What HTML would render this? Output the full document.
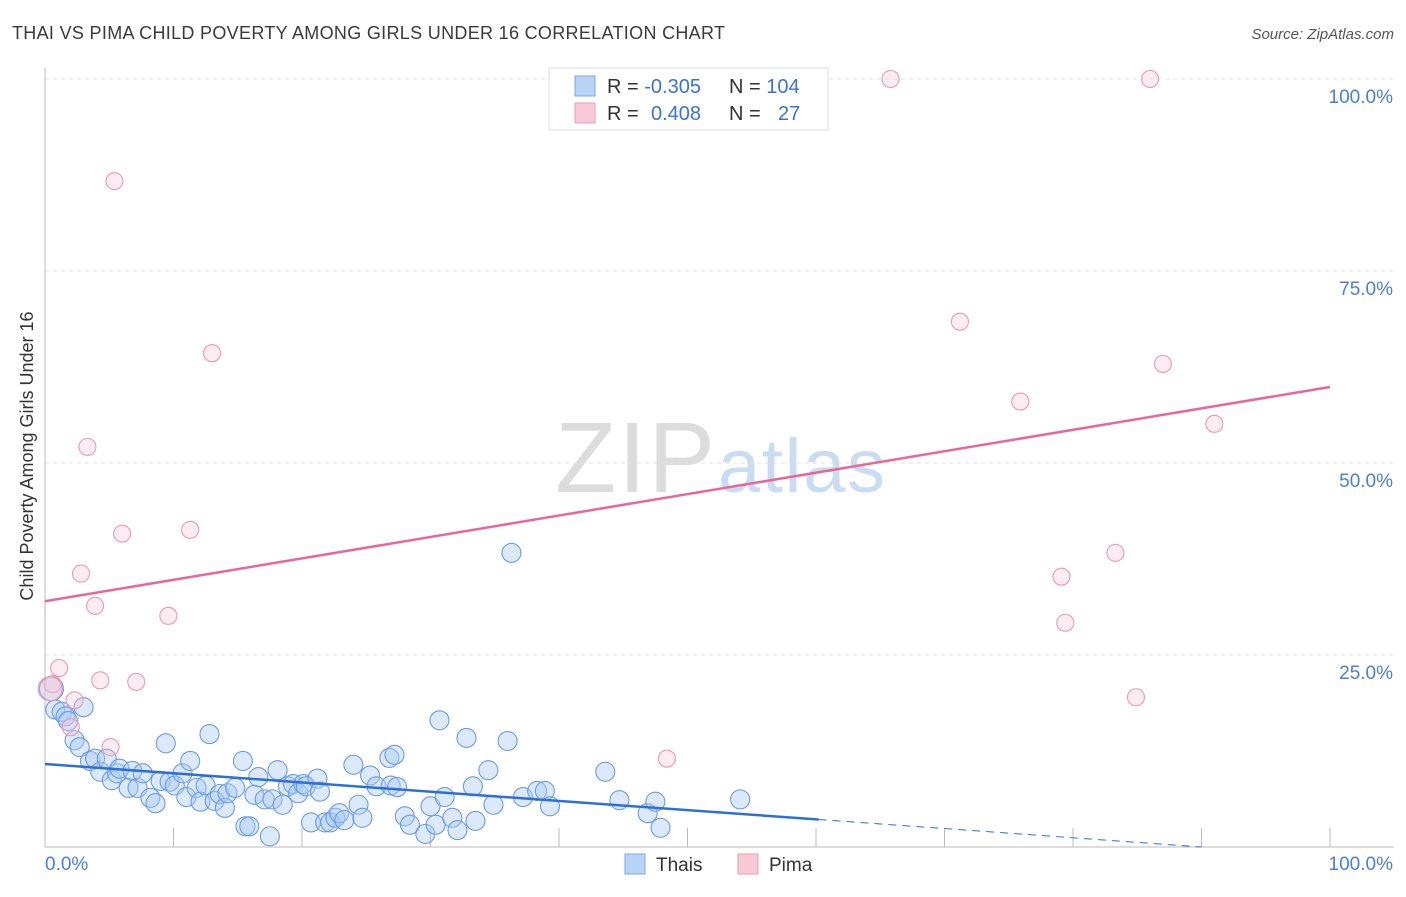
<!DOCTYPE html>
<html><head><meta charset="utf-8"><style>
body{margin:0;background:#fff;font-family:"Liberation Sans",sans-serif;}
svg text{font-family:"Liberation Sans",sans-serif;}
</style></head><body>
<svg id="c" width="1406" height="892">
<text x="12" y="39" font-size="18" fill="#3a3a3a" textLength="713">THAI VS PIMA CHILD POVERTY AMONG GIRLS UNDER 16 CORRELATION CHART</text>
<text x="1394" y="39" font-size="15" fill="#555" text-anchor="end" font-style="italic">Source: ZipAtlas.com</text>
<text x="555" y="492" font-size="100" fill="#dcdcdc" textLength="160" font-family="Liberation Serif">ZIP</text>
<text x="718" y="492" font-size="76" fill="#cadcf2" textLength="167">atlas</text>
<g id="grid"></g>
<g id="pts"></g>
<g id="lines"></g>
<text transform="translate(33,456) rotate(-90)" font-size="18" fill="#333" text-anchor="middle">Child Poverty Among Girls Under 16</text>
<text x="45" y="870" font-size="19" fill="#4a7fd6">0.0%</text>
<text x="1393" y="870" font-size="19" fill="#4a7fd6" text-anchor="end">100.0%</text>
<g>
<rect x="549" y="68" width="279" height="62" fill="#fff" stroke="#ddd"/>
<rect x="575" y="76" width="20" height="20" fill="#b9d3f5" stroke="#7aa6e6"/>
<rect x="575" y="103" width="20" height="20" fill="#f9c9d8" stroke="#eb9ab6"/>
<text x="607" y="93" font-size="20" fill="#333">R = <tspan fill="#3a72d4">-0.305</tspan></text>
<text x="729" y="93" font-size="20" fill="#333">N = <tspan fill="#3a72d4">104</tspan></text>
<text x="607" y="120" font-size="20" fill="#333">R = <tspan fill="#3a72d4" x="651">0.408</tspan></text>
<text x="729" y="120" font-size="20" fill="#333">N = <tspan fill="#3a72d4" x="778">27</tspan></text>
</g>
<g>
<rect x="625" y="854" width="20" height="20" fill="#b9d3f5" stroke="#7aa6e6"/>
<text x="656" y="871" font-size="19" fill="#333">Thais</text>
<rect x="738" y="854" width="20" height="20" fill="#f9c9d8" stroke="#eb9ab6"/>
<text x="769" y="871" font-size="19" fill="#333">Pima</text>
</g>
</svg>
<script>
const yTicks=[25,50,75,100];
const yTickLabels=["25.0%","50.0%","75.0%","100.0%"];
const xTicks=[10,20,30,40,50,60,70,80,90,100];
const thaiX=[0.5,0.8,1.3,1.6,1.8,3.0,2.3,2.7,3.5,3.9,4.3,4.8,5.2,5.6,5.8,6.5,6.8,7.2,7.6,8.2,8.6,9.0,9.4,9.7,10.1,10.7,11.0,11.3,11.8,12.1,12.5,12.8,13.2,13.6,14.0,14.2,14.8,15.4,15.6,15.9,16.3,16.6,17.1,17.5,17.7,18.1,18.5,18.9,19.3,19.7,20.1,20.3,20.7,21.2,21.4,21.8,22.2,22.6,22.9,23.3,24.0,24.4,24.7,25.3,25.8,26.8,27.2,26.9,27.4,28.0,28.4,29.6,30.0,30.4,31.1,30.7,31.7,32.1,32.8,33.3,33.5,34.5,34.9,36.0,37.2,38.3,38.9,39.3,43.6,44.7,46.9,47.5,47.9,54.1,36.3];
const thaiY=[20.6,17.9,17.6,17.0,16.4,18.2,13.9,13.0,11.2,11.5,9.8,11.5,8.7,9.6,10.2,7.7,9.9,7.7,9.6,6.4,5.7,8.6,13.5,8.5,8.0,9.6,6.5,11.2,7.7,5.9,8.0,14.7,6.0,6.9,5.1,7.0,7.7,11.2,2.7,2.7,6.8,9.1,6.2,1.4,6.2,10.0,5.5,7.9,8.2,7.0,8.2,7.9,3.2,8.9,7.2,3.2,3.2,3.8,4.4,3.5,10.7,5.5,3.8,9.3,7.9,11.6,12.0,8.0,7.8,4.0,2.9,1.7,5.3,2.9,6.5,16.5,3.8,2.2,14.2,7.9,3.4,10.0,5.5,13.8,6.5,7.3,7.3,5.3,9.8,6.1,4.4,5.9,2.5,6.2,38.3];
const pimaX=[0.6,1.1,5.4,13.0,3.3,6.0,11.3,2.8,3.9,9.6,4.3,7.1,2.3,2.0,5.1,48.4,65.8,86.0,71.2,87.0,75.9,91.0,83.3,79.1,79.4,84.9,0.4];
const pimaY=[21.2,23.3,86.7,64.3,52.1,40.8,41.3,35.6,31.4,30.1,21.7,21.5,19.1,15.6,13.0,11.5,100,100,68.4,62.9,58.0,55.1,38.3,35.2,29.2,19.5,20.6];
const thaiTrend=[10.8,-0.12];
const pimaTrend=[32.0,0.279];
const X0=45,X1=1330,Y0=847,Y1=79;
const sx=v=>X0+(X1-X0)*v/100, sy=v=>Y0-(Y0-Y1)*v/100;
const NS="http://www.w3.org/2000/svg";
function mk(t,a,p){const e=document.createElementNS(NS,t);for(const k in a)e.setAttribute(k,a[k]);p.appendChild(e);return e;}
const grid=document.getElementById('grid');
yTicks.forEach((t,i)=>{
 const l=mk('line',{x1:X0,x2:1394,y1:sy(t),y2:sy(t),stroke:'#e2e2e2','stroke-dasharray':'4,4'},grid);
 
 
 const tx=mk('text',{x:1393,y:sy(t)+24,'font-size':19,fill:'#4a7fd6','text-anchor':'end'},grid);
 tx.textContent=yTickLabels[i];
 
 
});
const ax=mk('path',{d:`M${X0} 68V${Y0}H1394`,stroke:'#bbb',fill:'none'},grid);


xTicks.forEach(t=>{
 const l=mk('line',{x1:sx(t),x2:sx(t),y1:828,y2:Y0,stroke:'#bbb'},grid);
 
 
});
const pts=document.getElementById('pts');
thaiX.forEach((x,i)=>{
 const c=mk('circle',{cx:sx(x),cy:sy(thaiY[i]),r:i==0?12:9.5,fill:'rgba(170,202,242,0.42)',stroke:'#6b9be2','stroke-width':1.1},pts);
 
 
});
pimaX.forEach((x,i)=>{
 const c=mk('circle',{cx:sx(x),cy:sy(pimaY[i]),r:i==26?12:8.5,fill:'rgba(248,195,212,0.32)',stroke:'#eb98b3','stroke-width':1.1},pts);
 
 
});
const lines=document.getElementById('lines');
const tb=x=>thaiTrend[0]+thaiTrend[1]*x, pb=x=>pimaTrend[0]+pimaTrend[1]*x;
let l1=mk('line',{x1:sx(0),y1:sy(tb(0)),x2:sx(60.2),y2:sy(tb(60.2)),stroke:'#2c6fd6','stroke-width':2.5},lines);


let l2=mk('line',{x1:sx(60.2),y1:sy(tb(60.2)),x2:sx(90),y2:sy(tb(90)),stroke:'#2c6fd6','stroke-width':1,'stroke-dasharray':'8,6'},lines);


let l3=mk('line',{x1:sx(0),y1:sy(pb(0)),x2:sx(100),y2:sy(pb(100)),stroke:'#e8679a','stroke-width':2.5},lines);


</script>
</body></html>
